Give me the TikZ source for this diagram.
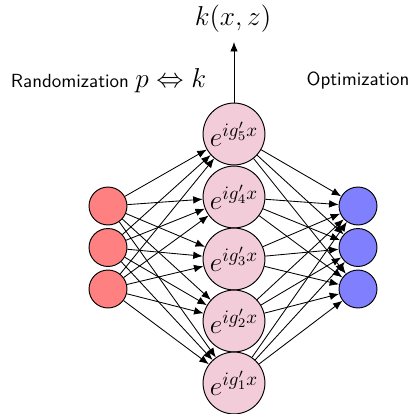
\documentclass[tikz,border=0pt]{standalone}
\usetikzlibrary{arrows.meta}
\begin{document}
\begin{tikzpicture}[x=0.527pt,y=-0.527pt,
  neuron/.style={circle,draw,line width=0.5pt,inner sep=0pt},
  inneuron/.style={neuron,fill=red!50,minimum size=20pt},
  outneuron/.style={neuron,fill=blue!50,minimum size=20pt},
  hidneuron/.style={neuron,fill=purple!20,minimum size=32.6pt,font=\Large},
  link/.style={-{Latex[length=5pt,width=4pt]},line width=0.45pt},
  label/.style={inner sep=0pt}]
\useasboundingbox (0,0) rectangle (414,414);

% input layer
\node[inneuron] (I-1) at (108,206) {};
\node[inneuron] (I-2) at (108,247.5) {};
\node[inneuron] (I-3) at (108,289) {};

% hidden layer, index 5 at the top
\foreach \n/\y in {5/134,4/197,3/259,2/321,1/383}
  \node[hidneuron] (H-\n) at (234,\y) {$e^{ig_{\n}'x}$};

% output layer
\node[outneuron] (O-1) at (358,206) {};
\node[outneuron] (O-2) at (358,247.5) {};
\node[outneuron] (O-3) at (358,289) {};

% full connections
\foreach \i in {1,2,3}
  \foreach \h in {1,...,5}
    \draw[link] (I-\i) -- (H-\h);
\foreach \h in {1,...,5}
  \foreach \o in {1,2,3}
    \draw[link] (H-\h) -- (O-\o);

% kernel output
\node[label,font=\Large] (K) at (233,19) {$k(x,z)$};
\coordinate (Ktip) at (234,42);
\draw[link] (H-5) -- (Ktip);

% side captions
\node[label] (R) at (108.5,81) {\sffamily Randomization \Large$p \Leftrightarrow k$};
\node[label] (Opt) at (358,81) {\sffamily Optimization};
\end{tikzpicture}
\end{document}
